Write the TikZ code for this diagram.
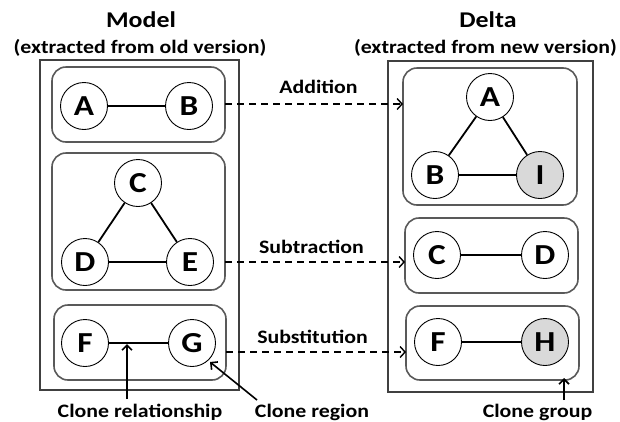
\documentclass[tikz,border=0pt]{standalone}
\usepackage{fontspec}
\setmainfont{Carlito}[FakeStretch=1.15]
\usetikzlibrary{arrows.meta}
\begin{document}
\begin{tikzpicture}[x=1pt,y=-1pt,
  outer/.style={draw=black!75, line width=2pt},
  grp/.style={draw=black!65, line width=1.6pt, rounded corners=14pt},
  vert/.style={circle, draw=black, line width=0.9pt, minimum size=47pt, inner sep=0pt, font=\fontsize{29}{29}\selectfont\bfseries},
  newv/.style={vert, fill=black!15},
  edge/.style={draw=black, line width=1.8pt},
  change/.style={draw=black, line width=1.4pt, dash pattern=on 7pt off 5pt, -{Straight Barb[length=5pt,width=11pt]}},
  lbl/.style={font=\fontsize{19}{19}\selectfont\bfseries, inner sep=0pt, anchor=base},
  ttl/.style={font=\fontsize{22.5}{22.5}\selectfont\bfseries, inner sep=0pt, anchor=base},
  sub/.style={font=\fontsize{19}{19}\selectfont\bfseries, inner sep=0pt, anchor=base},
  pointer/.style={draw=black, line width=1.6pt, -{Straight Barb[length=5pt,width=10pt]}}
]
\useasboundingbox (0,0) rectangle (620,421);
% titles
\node[ttl] (tm) at (141,27) {Model};
\node[sub] (sm) at (140,53) {(extracted from old version)};
\node[ttl] (td) at (488,27) {Delta};
\node[sub] (sd) at (485.5,53) {(extracted from new version)};
% outer boxes
\draw[outer] (40,60) rectangle (239,390);
\draw[outer] (388,61) rectangle (593,392);
% left groups
\draw[grp] (52,67) rectangle (225,142);
\coordinate (g1) at (225,104);
\draw[grp] (52,153) rectangle (225,290);
\coordinate (g2) at (225,262);
\draw[grp] (54,305) rectangle (226,380);
\coordinate (g3) at (226,352);
% right groups
\draw[grp] (403,68) rectangle (577,205);
\coordinate (h1) at (403,104);
\draw[grp] (405,218) rectangle (578,293);
\coordinate (h2) at (405,262);
\draw[grp] (406,306) rectangle (579,380);
\coordinate (h3) at (406,352);
% left vertices
\node[vert] (A) at (84,106) {A};
\node[vert] (B) at (189,106) {B};
\node[vert] (C) at (138,183) {C};
\node[vert] (D) at (85,262) {D};
\node[vert] (E) at (190,262) {E};
\node[vert] (F) at (85,343) {F};
\node[vert] (G) at (192,343) {G};
\draw[edge] (A) -- (B);
\draw[edge] (C) -- (D);
\draw[edge] (C) -- (E);
\draw[edge] (D) -- (E);
\draw[edge] (F) -- (G);
% right vertices
\node[vert] (A2) at (490,97) {A};
\node[vert] (B2) at (435,175) {B};
\node[newv] (I2) at (540,175) {I};
\node[vert] (C2) at (437,255) {C};
\node[vert] (D2) at (545,255) {D};
\node[vert] (F2) at (438,342) {F};
\node[newv] (H2) at (545,342) {H};
\draw[edge] (A2) -- (B2);
\draw[edge] (A2) -- (I2);
\draw[edge] (B2) -- (I2);
\draw[edge] (C2) -- (D2);
\draw[edge] (F2) -- (H2);
% changes
\draw[change] (g1) -- (h1);
\draw[change] (g2) -- (h2);
\draw[change] (g3) -- (h3);
\node[lbl] (la) at (318.5,93) {Addition};
\node[lbl] (ls) at (311.5,253) {Subtraction};
\node[lbl] (lu) at (312.5,343) {Substitution};
% annotations
\node[lbl] (cr) at (140,417) {Clone relationship};
\node[lbl] (cg) at (312,417) {Clone region};
\node[lbl] (cgp) at (537.5,417) {Clone group};
\coordinate (crt) at (127,344);
\coordinate (crs) at (127,399);
\coordinate (cgt) at (210,362);
\coordinate (cgs) at (257,400);
\coordinate (cpt) at (564,378);
\coordinate (cps) at (564,400);
\draw[pointer] (crs) -- (crt);
\draw[pointer] (cgs) -- (cgt);
\draw[pointer] (cps) -- (cpt);
\end{tikzpicture}
\end{document}
